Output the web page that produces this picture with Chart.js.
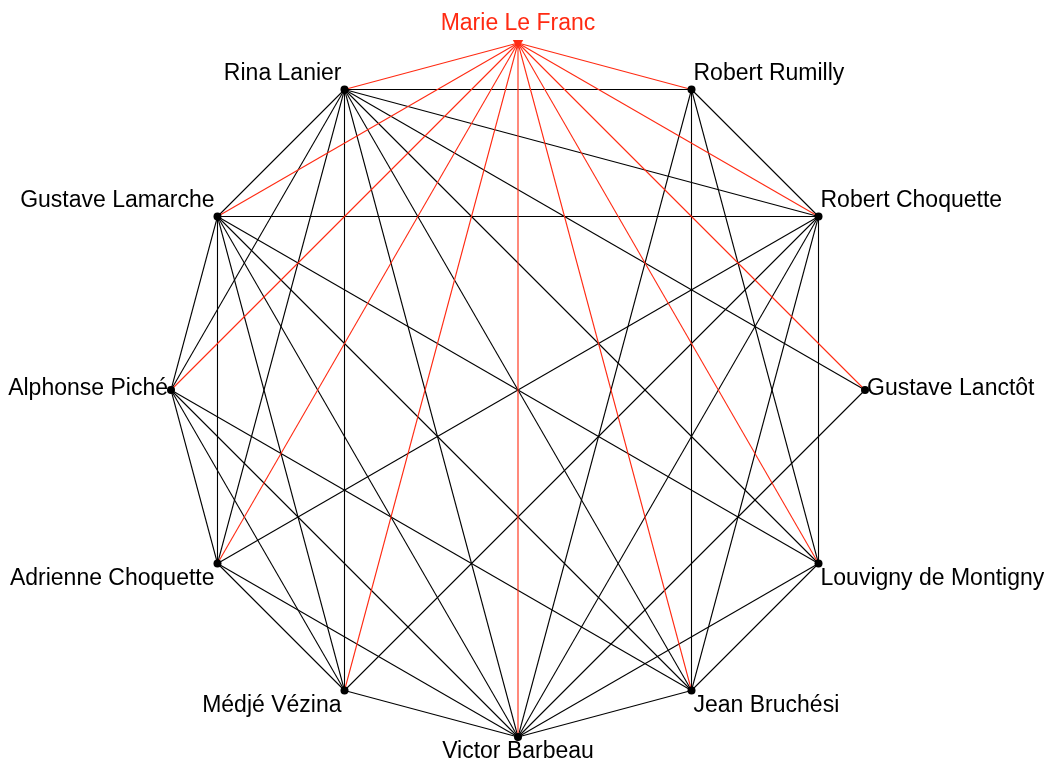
<!DOCTYPE html>
<html>
<head>
<meta charset="utf-8">
<script src="https://cdn.jsdelivr.net/npm/chart.js@4.4.1/dist/chart.umd.min.js"></script>
<style>
  html, body { margin: 0; padding: 0; background: #fff; }
  #wrap { width: 1044px; height: 763px; }
</style>
</head>
<body>
<div id="wrap"><canvas id="net"></canvas></div>
<script>
// nodes, clockwise from the top
const noms = ['Marie Le Franc', 'Robert Rumilly', 'Robert Choquette', 'Gustave Lanctôt',
  'Louvigny de Montigny', 'Jean Bruchési', 'Victor Barbeau', 'Médjé Vézina',
  'Adrienne Choquette', 'Alphonse Piché', 'Gustave Lamarche', 'Rina Lanier'];

// node highlighted in red
const focus = 'Marie Le Franc';

// liens (paires de noms)
const liensFocus = [
  ['Marie Le Franc', 'Robert Rumilly'], ['Marie Le Franc', 'Robert Choquette'],
  ['Marie Le Franc', 'Gustave Lanctôt'], ['Marie Le Franc', 'Louvigny de Montigny'],
  ['Marie Le Franc', 'Jean Bruchési'], ['Marie Le Franc', 'Victor Barbeau'],
  ['Marie Le Franc', 'Médjé Vézina'], ['Marie Le Franc', 'Adrienne Choquette'],
  ['Marie Le Franc', 'Alphonse Piché'], ['Marie Le Franc', 'Gustave Lamarche'],
  ['Marie Le Franc', 'Rina Lanier']
];
const liens = [
  ['Rina Lanier', 'Robert Rumilly'], ['Rina Lanier', 'Robert Choquette'],
  ['Rina Lanier', 'Gustave Lanctôt'], ['Rina Lanier', 'Louvigny de Montigny'],
  ['Rina Lanier', 'Jean Bruchési'], ['Rina Lanier', 'Victor Barbeau'],
  ['Rina Lanier', 'Médjé Vézina'], ['Rina Lanier', 'Adrienne Choquette'],
  ['Rina Lanier', 'Alphonse Piché'], ['Rina Lanier', 'Gustave Lamarche'],
  ['Robert Rumilly', 'Robert Choquette'], ['Robert Rumilly', 'Louvigny de Montigny'],
  ['Robert Rumilly', 'Jean Bruchési'], ['Robert Rumilly', 'Victor Barbeau'],
  ['Robert Choquette', 'Gustave Lamarche'], ['Robert Choquette', 'Adrienne Choquette'],
  ['Robert Choquette', 'Médjé Vézina'], ['Robert Choquette', 'Victor Barbeau'],
  ['Robert Choquette', 'Jean Bruchési'], ['Robert Choquette', 'Louvigny de Montigny'],
  ['Gustave Lanctôt', 'Victor Barbeau'],
  ['Louvigny de Montigny', 'Gustave Lamarche'], ['Louvigny de Montigny', 'Victor Barbeau'],
  ['Louvigny de Montigny', 'Jean Bruchési'],
  ['Jean Bruchési', 'Gustave Lamarche'], ['Jean Bruchési', 'Victor Barbeau'],
  ['Jean Bruchési', 'Alphonse Piché'],
  ['Victor Barbeau', 'Médjé Vézina'], ['Victor Barbeau', 'Adrienne Choquette'],
  ['Victor Barbeau', 'Alphonse Piché'], ['Victor Barbeau', 'Gustave Lamarche'],
  ['Médjé Vézina', 'Adrienne Choquette'], ['Médjé Vézina', 'Alphonse Piché'],
  ['Médjé Vézina', 'Gustave Lamarche'],
  ['Adrienne Choquette', 'Alphonse Piché'], ['Adrienne Choquette', 'Gustave Lamarche'],
  ['Alphonse Piché', 'Gustave Lamarche']
];

document.addEventListener('DOMContentLoaded', () => {
  const ROUGE = '#ff2a12';
  const NOIR = '#000';

  // disposition circulaire
  const pos = {};
  noms.forEach((n, i) => {
    const a = i * 2 * Math.PI / noms.length;
    pos[n] = { x: Math.sin(a), y: Math.cos(a) };
  });

  const ds = [];
  liens.forEach(([a, b]) => ds.push({
    data: [pos[a], pos[b]], showLine: true, borderColor: NOIR, borderWidth: 1.1,
    pointRadius: 0, order: 2
  }));
  liensFocus.forEach(([a, b]) => ds.push({
    data: [pos[a], pos[b]], showLine: true, borderColor: ROUGE, borderWidth: 1.1,
    pointRadius: 0, order: 1
  }));
  ds.push({
    data: noms.map(n => pos[n]),
    showLine: false,
    pointRadius: noms.map(n => n === focus ? 6 : 4),
    pointStyle: noms.map(n => n === focus ? 'triangle' : 'circle'),
    rotation: noms.map(n => n === focus ? 180 : 0),
    backgroundColor: noms.map(n => n === focus ? ROUGE : '#000'),
    borderWidth: 0,
    order: 0
  });

  const etiquettes = {
    id: 'etiquettes',
    afterDatasetsDraw(chart) {
      const { ctx, scales: { x, y } } = chart;
      ctx.save();
      ctx.font = '23px "Liberation Sans", Arial, sans-serif';
      ctx.textBaseline = 'middle';
      noms.forEach(n => {
        const p = pos[n];
        const px = x.getPixelForValue(p.x), py = y.getPixelForValue(p.y);
        let dx = 0, dy = 0;
        if (p.x > 0.01) { ctx.textAlign = 'left'; dx = 2; }
        else if (p.x < -0.01) { ctx.textAlign = 'right'; dx = -3; }
        else ctx.textAlign = 'center';
        if (p.y > 0.9) dy = -19;
        else if (p.y > 0.1) dy = -16;
        else if (p.y < -0.1) dy = 15;
        else dy = -1;
        ctx.fillStyle = n === focus ? ROUGE : '#000';
        ctx.fillText(n, px + dx, py + dy);
      });
      ctx.restore();
    }
  };

  new Chart(document.getElementById('net'), {
    type: 'scatter',
    data: { datasets: ds },
    options: {
      responsive: true,
      maintainAspectRatio: false,
      animation: false,
      layout: { padding: 0, autoPadding: false },
      scales: {
        x: { display: false, min: -518 / 347, max: 526 / 347 },
        y: { display: false, min: -373 / 347, max: 390 / 347 }
      },
      plugins: { legend: { display: false }, tooltip: { enabled: false } }
    },
    plugins: [etiquettes]
  });
});
</script>
</body>
</html>
